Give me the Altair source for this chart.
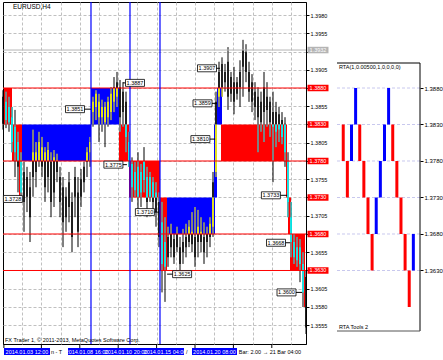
import altair as alt
import pandas as pd

# ---------------- data ----------------
symbol_title = "EURUSD,H4"
copyright_text = "FX Trader 1, \u00a9 2011-2013, MetaQuotes Software Corp."
sub_title = "RTA(1,0.00500,1,0,0,0,0)"
sub_footer = "RTA Tools 2"

bar_high = [1.3877, 1.3875, 1.3868, 1.3854, 1.3850, 1.3820, 1.3792, 1.3779, 1.3772, 1.3765,
            1.3823, 1.3806, 1.3820, 1.3813, 1.3799, 1.3806, 1.3792, 1.3795, 1.3790, 1.3772,
            1.3758, 1.3744, 1.3765, 1.3737, 1.3772, 1.3758, 1.3769, 1.3779, 1.3799, 1.3813,
            1.3868, 1.3877, 1.3872, 1.3864, 1.3861, 1.3868, 1.3881, 1.3895, 1.3902, 1.3891,
            1.3888, 1.3875, 1.3820, 1.3785, 1.3779, 1.3792, 1.3776, 1.3799, 1.3772, 1.3765,
            1.3758, 1.3751, 1.3737, 1.3724, 1.3703, 1.3690, 1.3694, 1.3680, 1.3690, 1.3676,
            1.3687, 1.3694, 1.3699, 1.3710, 1.3717, 1.3713, 1.3703, 1.3696, 1.3690, 1.3703,
            1.3765, 1.3875, 1.3916, 1.3922, 1.3913, 1.3936, 1.3902, 1.3909, 1.3895, 1.3918,
            1.3946, 1.3940, 1.3916, 1.3899, 1.3888, 1.3881, 1.3875, 1.3902, 1.3888, 1.3868,
            1.3875, 1.3861, 1.3854, 1.3847, 1.3840, 1.3792, 1.3724, 1.3680, 1.3676, 1.3673,
            1.3655, 1.3630]
bar_low = [1.3823, 1.3825, 1.3820, 1.3792, 1.3758, 1.3737, 1.3724, 1.3683, 1.3710, 1.3669,
           1.3731, 1.3744, 1.3772, 1.3758, 1.3724, 1.3737, 1.3703, 1.3717, 1.3751, 1.3703,
           1.3662, 1.3683, 1.3696, 1.3655, 1.3703, 1.3662, 1.3717, 1.3737, 1.3758, 1.3772,
           1.3827, 1.3836, 1.3806, 1.3820, 1.3799, 1.3827, 1.3836, 1.3847, 1.3854, 1.3820,
           1.3827, 1.3792, 1.3772, 1.3724, 1.3731, 1.3710, 1.3717, 1.3737, 1.3703, 1.3724,
           1.3710, 1.3690, 1.3662, 1.3600, 1.3587, 1.3635, 1.3648, 1.3639, 1.3655, 1.3630,
           1.3639, 1.3648, 1.3662, 1.3655, 1.3635, 1.3648, 1.3655, 1.3639, 1.3648, 1.3662,
           1.3676, 1.3758, 1.3854, 1.3868, 1.3875, 1.3850, 1.3861, 1.3844, 1.3864, 1.3854,
           1.3868, 1.3888, 1.3861, 1.3847, 1.3836, 1.3792, 1.3820, 1.3806, 1.3827, 1.3813,
           1.3751, 1.3799, 1.3806, 1.3803, 1.3772, 1.3703, 1.3648, 1.3639, 1.3635, 1.3614,
           1.3580, 1.3543]
bar_open = [1.3868, 1.3861, 1.3854, 1.3840, 1.3827, 1.3806, 1.3779, 1.3765, 1.3758, 1.3744,
            1.3792, 1.3792, 1.3806, 1.3799, 1.3792, 1.3795, 1.3779, 1.3785, 1.3781, 1.3758,
            1.3744, 1.3731, 1.3751, 1.3724, 1.3758, 1.3737, 1.3755, 1.3772, 1.3779, 1.3792,
            1.3847, 1.3854, 1.3861, 1.3840, 1.3854, 1.3840, 1.3847, 1.3861, 1.3868, 1.3881,
            1.3875, 1.3861, 1.3806, 1.3776, 1.3765, 1.3772, 1.3765, 1.3779, 1.3758, 1.3758,
            1.3751, 1.3737, 1.3724, 1.3696, 1.3669, 1.3676, 1.3680, 1.3673, 1.3680, 1.3662,
            1.3669, 1.3676, 1.3690, 1.3683, 1.3676, 1.3690, 1.3683, 1.3676, 1.3669, 1.3676,
            1.3690, 1.3765, 1.3868, 1.3913, 1.3888, 1.3916, 1.3895, 1.3888, 1.3888, 1.3881,
            1.3909, 1.3929, 1.3902, 1.3888, 1.3875, 1.3868, 1.3861, 1.3881, 1.3868, 1.3861,
            1.3847, 1.3847, 1.3844, 1.3836, 1.3831, 1.3779, 1.3703, 1.3669, 1.3662, 1.3662,
            1.3639, 1.3621]
bar_close = [1.3831, 1.3836, 1.3833, 1.3806, 1.3792, 1.3772, 1.3737, 1.3724, 1.3731, 1.3703,
             1.3758, 1.3765, 1.3781, 1.3772, 1.3744, 1.3758, 1.3724, 1.3737, 1.3765, 1.3724,
             1.3696, 1.3703, 1.3717, 1.3676, 1.3731, 1.3683, 1.3731, 1.3751, 1.3792, 1.3806,
             1.3861, 1.3872, 1.3840, 1.3854, 1.3833, 1.3861, 1.3872, 1.3881, 1.3888, 1.3840,
             1.3847, 1.3813, 1.3781, 1.3744, 1.3740, 1.3731, 1.3737, 1.3754, 1.3724, 1.3731,
             1.3724, 1.3710, 1.3676, 1.3639, 1.3635, 1.3648, 1.3662, 1.3648, 1.3662, 1.3639,
             1.3655, 1.3662, 1.3669, 1.3666, 1.3648, 1.3669, 1.3669, 1.3655, 1.3680, 1.3694,
             1.3751, 1.3861, 1.3902, 1.3881, 1.3902, 1.3868, 1.3872, 1.3861, 1.3872, 1.3902,
             1.3932, 1.3902, 1.3875, 1.3861, 1.3854, 1.3840, 1.3833, 1.3847, 1.3850, 1.3833,
             1.3827, 1.3820, 1.3823, 1.3813, 1.3792, 1.3724, 1.3669, 1.3648, 1.3644, 1.3639,
             1.3600, 1.3552]

# renko boxes drawn over the price bars (start / end in bar index)
box_start = [0.33, 3.0, 5.33, 6.33, 29.33, 38.67, 42.0, 52.33, 52.33, 54.67,
             70.33, 70.33, 71.33, 72.67, 94.33, 95.0, 95.67, 99.67]
box_end = [3.0, 6.33, 6.33, 29.33, 38.67, 42.0, 52.33, 54.67, 54.67, 70.67,
           71.33, 71.33, 73.0, 94.67, 95.33, 96.0, 100.67, 100.67]
box_low = [1.3830, 1.3780, 1.3730, 1.3780, 1.3830, 1.3780, 1.3730, 1.3680, 1.3630, 1.3680,
           1.3730, 1.3780, 1.3830, 1.3780, 1.3730, 1.3680, 1.3630, 1.3580]
box_high = [1.3880, 1.3830, 1.3780, 1.3830, 1.3880, 1.3830, 1.3780, 1.3730, 1.3680, 1.3730,
            1.3780, 1.3830, 1.3880, 1.3830, 1.3780, 1.3730, 1.3680, 1.3630]
box_dir = ["down", "down", "down", "up", "up", "down", "down", "down", "down", "up",
           "up", "up", "up", "down", "down", "down", "down", "down"]

renko_levels = [1.3880, 1.3830, 1.3780, 1.3730, 1.3680, 1.3630]
level_lines = [1.3880, 1.3780, 1.3680, 1.3630]
bid_price = [1.3932]
grid_prices = [1.3555, 1.3580, 1.3605, 1.3630, 1.3655, 1.3680, 1.3705, 1.3730, 1.3755,
               1.3780, 1.3805, 1.3830, 1.3855, 1.3880, 1.3905, 1.3930, 1.3955, 1.3980]
hidden_grid_labels = ["1.3630", "1.3680", "1.3730", "1.3780", "1.3830", "1.3880", "1.3930"]
grid_bars = [6.4, 12.8, 19.2, 25.6, 32.0, 38.4, 44.8, 51.2, 57.6, 64.0, 70.4, 76.8,
             83.2, 89.6, 96.0]
tick_bars = [0.3, 12.8, 25.6, 38.4, 51.2, 64.0, 76.8, 89.6]
session_bars = [29.33, 42.33, 52.33]

label_center = [24.0, 44.0, 3.3, 36.8, 47.3, 68.0, 66.5, 65.8, 89.3, 91.0, 59.7, 94.5]
label_target = [29.3, 40.0, 3.3, 41.3, 52.0, 72.3, 71.3, 70.7, 94.7, 95.7, 54.7, 99.7]
label_price = [1.3851, 1.3887, 1.3728, 1.3775, 1.3710, 1.3907, 1.3859, 1.3810,
               1.3733, 1.3668, 1.3625, 1.3600]
label_text = ["1.3851", "1.3887", "1.3728", "1.3775", "1.3710", "1.3907", "1.3859",
              "1.3810", "1.3733", "1.3668", "1.3625", "1.3600"]

renko_col = [0, 1, 2, 3, 4, 5, 6, 7, 8, 9, 10, 11, 12, 13, 14, 15, 16, 17]
renko_low = [1.3780, 1.3730, 1.3780, 1.3830, 1.3780, 1.3730, 1.3680, 1.3630, 1.3680,
             1.3730, 1.3780, 1.3830, 1.3780, 1.3730, 1.3680, 1.3630, 1.3580, 1.3630]
renko_high = [1.3830, 1.3780, 1.3830, 1.3880, 1.3830, 1.3780, 1.3730, 1.3680, 1.3730,
              1.3780, 1.3830, 1.3880, 1.3830, 1.3780, 1.3730, 1.3680, 1.3630, 1.3680]
renko_dir = ["down", "down", "up", "up", "down", "down", "down", "down", "up",
             "up", "up", "up", "down", "down", "down", "down", "down", "up"]

date_box_start = [0.33, 21.67, 63.0]
date_box_end = [15.67, 60.33, 78.0]
date_text = ["2014.01.03 12:00", "2014.01.08 16:00", "2014.01.10 20:00",
             "2014.01.15 04:00", "2014.01.20 08:00"]
date_pos = [8.0, 28.0, 41.0, 54.0, 70.5]
note_text = ["n - T", "/", "Bar: 2.00 \u2192 21 Bar 04:00"]
note_pos = [16.0, 61.0, 78.6]

# ---------------- tables ----------------
BOX_COLORS = {"up": "#0000ff", "down": "#ff0000"}
SEG_COLORS = {"up": "#ffff00", "down": "#00ffff"}

bars = pd.DataFrame({"i": list(range(len(bar_high))), "hi": bar_high, "lo": bar_low,
                     "op": bar_open, "cl": bar_close})
boxes = pd.DataFrame({"x0": box_start, "x1": box_end, "lo": box_low, "hi": box_high,
                      "dir": box_dir})
boxes["fill"] = boxes["dir"].map(BOX_COLORS)

wick_rows, body_rows = [], []
for _, b in boxes.iterrows():
    inside = bars[(bars["i"] >= b["x0"]) & (bars["i"] <= b["x1"])]
    for _, r in inside.iterrows():
        wl, wh = max(r["lo"], b["lo"]), min(r["hi"], b["hi"])
        if wh > wl:
            wick_rows.append({"i": r["i"], "a": wl, "b": wh, "fill": SEG_COLORS[b["dir"]]})
        bl = max(min(r["op"], r["cl"]), b["lo"])
        bh = min(max(r["op"], r["cl"]), b["hi"])
        if bh > bl:
            body_rows.append({"i": r["i"], "a": bl, "b": bh, "fill": SEG_COLORS[b["dir"]]})
seg_wicks = pd.DataFrame(wick_rows)
seg_bodies = pd.DataFrame(body_rows)

labels = pd.DataFrame({"c": label_center, "t": label_target, "p": label_price,
                       "txt": label_text})
levels_df = pd.DataFrame({"p": renko_levels, "txt": [f"{v:.4f}" for v in renko_levels]})
lines_df = pd.DataFrame({"p": level_lines})
bid_df = pd.DataFrame({"p": bid_price, "txt": [f"{v:.4f}" for v in bid_price]})
sess_df = pd.DataFrame({"x": session_bars})
ticks_df = pd.DataFrame({"x": tick_bars})
renko = pd.DataFrame({"col": renko_col, "lo": renko_low, "hi": renko_high, "dir": renko_dir})
renko["fill"] = renko["dir"].map(BOX_COLORS)
date_boxes = pd.DataFrame({"x0": date_box_start, "x1": date_box_end})
dates = pd.DataFrame({"x": date_pos, "txt": date_text})
notes = pd.DataFrame({"x": note_pos, "txt": note_text})

# ---------------- scales / axes ----------------
FONT = "Liberation Sans"
GRID = "#c0c0c0"
yscale = alt.Scale(domain=[1.352931, 1.399781], nice=False, zero=False)
xscale = alt.Scale(domain=[0, 101], nice=False, zero=False)
xaxis = alt.Axis(values=grid_bars, grid=True, labels=False, ticks=False, domain=False,
                 title=None, gridColor=GRID, gridDash=[3, 2])
hidden_js = "[" + ",".join(f"'{s}'" for s in hidden_grid_labels) + "]"
yaxis = alt.Axis(orient="right", values=grid_prices, format=".4f", title=None, grid=True,
                 gridColor=GRID, gridDash=[3, 2], tickSize=3, tickColor="black",
                 domainColor="black", labelColor="black", labelFontSize=5.5,
                 labelPadding=1, labelFont=FONT,
                 labelExpr=f"indexof({hidden_js}, datum.label) >= 0 ? '' : datum.label")


def X(f):
    return alt.X(f, type="quantitative", scale=xscale, axis=xaxis)


def Y(f):
    return alt.Y(f, type="quantitative", scale=yscale, axis=yaxis)


# main panel
wicks = alt.Chart(bars).mark_rule(color="black", strokeWidth=1).encode(
    x=X("i"), y=Y("hi"), y2="lo:Q")
bodies = alt.Chart(bars).mark_rule(color="black", strokeWidth=1.5).encode(
    x=X("i"), y=Y("op"), y2="cl:Q")
bid_line = alt.Chart(bid_df).mark_rule(color="#b4b4b4", strokeWidth=1).encode(y=Y("p"))
box_layer = alt.Chart(boxes).mark_rect().encode(
    x=X("x0"), x2="x1:Q", y=Y("lo"), y2="hi:Q", color=alt.Color("fill:N", scale=None))
seg_w = alt.Chart(seg_wicks).mark_rule(strokeWidth=1).encode(
    x=X("i"), y=Y("a"), y2="b:Q", color=alt.Color("fill:N", scale=None))
seg_b = alt.Chart(seg_bodies).mark_rule(strokeWidth=1.5).encode(
    x=X("i"), y=Y("a"), y2="b:Q", color=alt.Color("fill:N", scale=None))
red_lines = alt.Chart(lines_df).mark_rule(color="#ff0000", strokeWidth=1).encode(y=Y("p"))
sess = alt.Chart(sess_df).mark_rule(color="#0000ff", strokeWidth=1.2).encode(x=X("x"))
bottom_ticks = alt.Chart(ticks_df).mark_rule(color="black").encode(
    x=X("x"), y=alt.value(342), y2=alt.value(346))
leaders = alt.Chart(labels).mark_rule(color="black", strokeWidth=1).encode(
    x=X("c"), x2="t:Q", y=Y("p"))
lbl_box = alt.Chart(labels).mark_tick(orient="horizontal", size=19, thickness=7,
                                      fill="white", stroke="black", strokeWidth=0.8,
                                      opacity=1).encode(x=X("c"), y=Y("p"))
lbl_txt = alt.Chart(labels).mark_text(font=FONT, fontSize=5.5, color="black",
                                      align="center", baseline="middle").encode(
    x=X("c"), y=Y("p"), text="txt:N")
lvl_tag = alt.Chart(levels_df).mark_tick(orient="horizontal", size=21, thickness=6.5,
                                         color="#ff0000", opacity=1).encode(
    x=alt.value(315), y=Y("p"))
lvl_txt = alt.Chart(levels_df).mark_text(font=FONT, fontSize=5.5, color="white",
                                         align="center", baseline="middle").encode(
    x=alt.value(315), y=Y("p"), text="txt:N")
bid_tag = alt.Chart(bid_df).mark_tick(orient="horizontal", size=21, thickness=6.5,
                                      color="#b4b4b4", opacity=1).encode(
    x=alt.value(315), y=Y("p"))
bid_txt = alt.Chart(bid_df).mark_text(font=FONT, fontSize=5.5, color="white",
                                      align="center", baseline="middle").encode(
    x=alt.value(315), y=Y("p"), text="txt:N")
title_txt = alt.Chart(pd.DataFrame({"txt": [symbol_title]})).mark_text(
    font=FONT, fontSize=6.5, color="black", align="left", baseline="middle").encode(
    x=alt.value(10), y=alt.value(5), text="txt:N")
copy_txt = alt.Chart(pd.DataFrame({"txt": [copyright_text]})).mark_text(
    font=FONT, fontSize=5.5, color="black", align="left", baseline="middle").encode(
    x=alt.value(2), y=alt.value(338), text="txt:N")
date_rect = alt.Chart(date_boxes).mark_rect(color="#0000ff").encode(
    x=X("x0"), x2="x1:Q", y=alt.value(346), y2=alt.value(353))
date_txt = alt.Chart(dates).mark_text(font=FONT, fontSize=5.5, color="white",
                                      align="center", baseline="middle").encode(
    x=X("x"), y=alt.value(349.5), text="txt:N")
note_txt = alt.Chart(notes).mark_text(font=FONT, fontSize=5.5, color="black",
                                      align="left", baseline="middle").encode(
    x=X("x"), y=alt.value(349.5), text="txt:N")

main = alt.layer(
    wicks, bodies, bid_line, box_layer, seg_w, seg_b, red_lines, sess,
    bottom_ticks, leaders, lbl_box, lbl_txt, lvl_tag, lvl_txt, bid_tag, bid_txt,
    title_txt, copy_txt, date_rect, date_txt, note_txt,
).properties(width=303, height=342,
             view=alt.ViewBackground(stroke="black", strokeWidth=1, strokeOpacity=1))

# right sub panel
rscale = alt.Scale(domain=[-0.3, 17.4], nice=False, zero=False)
saxis = alt.Axis(orient="right", values=renko_levels, format=".4f", title=None,
                 grid=False, domain=False, tickSize=3, tickColor="black",
                 labelColor="black", labelFontSize=6, labelPadding=1, labelFont=FONT)
sub_lines = alt.Chart(levels_df).mark_rule(color="#c8c8ee", strokeDash=[3, 2]).encode(
    y=alt.Y("p:Q", scale=yscale, axis=saxis))
sub_bars = alt.Chart(renko).mark_bar(size=3).encode(
    x=alt.X("col:Q", scale=rscale, axis=None),
    y=alt.Y("lo:Q", scale=yscale, axis=saxis), y2="hi:Q",
    color=alt.Color("fill:N", scale=None))
frame_df = pd.DataFrame({"k": [0]})
f_top = alt.Chart(frame_df).mark_rule(color="black").encode(
    x=alt.value(0), x2=alt.value(83), y=alt.value(61))
f_right = alt.Chart(frame_df).mark_rule(color="black").encode(
    x=alt.value(83), y=alt.value(61), y2=alt.value(329))
f_bottom = alt.Chart(frame_df).mark_rule(color="#555555").encode(
    x=alt.value(0), x2=alt.value(83), y=alt.value(329))
s_title = alt.Chart(pd.DataFrame({"txt": [sub_title]})).mark_text(
    font=FONT, fontSize=5.5, color="black", align="left", baseline="middle").encode(
    x=alt.value(2), y=alt.value(65), text="txt:N")
s_foot = alt.Chart(pd.DataFrame({"txt": [sub_footer]})).mark_text(
    font=FONT, fontSize=5.5, color="black", align="left", baseline="middle").encode(
    x=alt.value(2), y=alt.value(325), text="txt:N")

sub = alt.layer(sub_lines, sub_bars, f_top, f_right, f_bottom, s_title, s_foot).properties(
    width=83, height=342, view=alt.ViewBackground(strokeOpacity=0))

chart = alt.hconcat(main, sub, spacing=31, bounds="flush").configure(
    padding={"left": 1, "top": 0, "right": 0, "bottom": 0}, font=FONT,
    background="white")

chart.save("out.html", embed_options={"renderer": "svg", "actions": False})
